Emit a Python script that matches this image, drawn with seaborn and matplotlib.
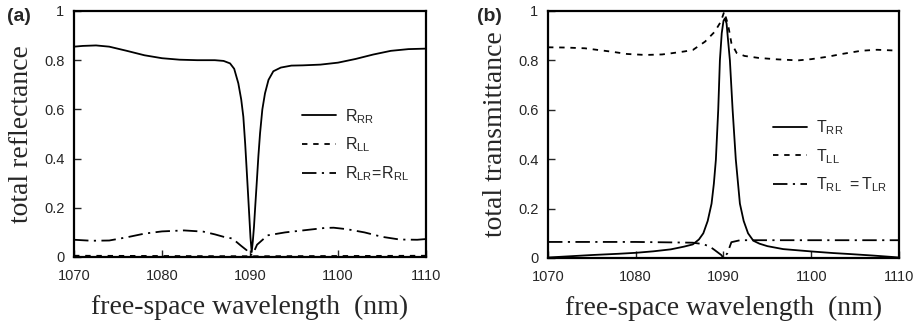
import matplotlib
matplotlib.use("Agg")
import matplotlib.pyplot as plt
import seaborn as sns

# ---- panel (a): reflectances ----
wl_rrr = [1070, 1071, 1072.5, 1074, 1076, 1078, 1080, 1082, 1084, 1086, 1087,
          1087.73, 1088.2, 1088.67, 1089.0, 1089.24, 1089.45, 1089.6, 1089.77,
          1089.92, 1090.05, 1090.19, 1090.32, 1090.45, 1090.6, 1090.76, 1090.95,
          1091.14, 1091.4, 1091.7, 1092.1, 1092.65, 1093.5, 1094.7, 1096, 1098,
          1100, 1102, 1104, 1106, 1108, 1110]
r_rr = [0.855, 0.858, 0.86, 0.855, 0.838, 0.82, 0.808, 0.802, 0.800, 0.800, 0.797,
        0.787, 0.765, 0.706, 0.64, 0.57, 0.46, 0.367, 0.26,
        0.164, 0.08, 0.02, 0.065, 0.123, 0.21, 0.30, 0.41,
        0.503, 0.60, 0.665, 0.72, 0.755, 0.77, 0.778, 0.779, 0.782,
        0.79, 0.805, 0.823, 0.838, 0.845, 0.847]

wl_rll = [1070, 1080, 1090, 1100, 1110]
r_ll = [0.005, 0.004, 0.003, 0.004, 0.005]

wl_rlr = [1070, 1072, 1074, 1076, 1078, 1080, 1082.5, 1084.7, 1086, 1087, 1088,
          1089, 1089.6, 1090.0, 1090.3, 1090.8, 1092, 1094, 1096, 1098.5, 1099.5,
          1101, 1103, 1105, 1107, 1109, 1110]
r_lr = [0.07, 0.066, 0.067, 0.08, 0.095, 0.104, 0.108, 0.103, 0.092, 0.082, 0.075,
        0.045, 0.028, 0.008, 0.01, 0.05, 0.088, 0.10, 0.108, 0.118, 0.119,
        0.113, 0.10, 0.082, 0.071, 0.07, 0.073]

# ---- panel (b): transmittances ----
wl_trr = [1070, 1072, 1075, 1078, 1080, 1082, 1084, 1085.5, 1086.5, 1087.2, 1087.7,
          1088.2, 1088.64, 1088.9, 1089.13, 1089.4, 1089.59, 1089.8, 1090.0, 1090.16,
          1090.35, 1090.55, 1090.73, 1091.04, 1091.4, 1091.87, 1092.3, 1092.8,
          1093.4, 1094.1, 1095, 1096.8, 1100.2, 1102.5, 1104.4, 1107, 1109.3, 1110]
t_rr = [0.002, 0.006, 0.012, 0.017, 0.021, 0.027, 0.035, 0.046, 0.055, 0.075, 0.10,
        0.15, 0.22, 0.30, 0.397, 0.60, 0.80, 0.91, 0.96, 0.97,
        0.95, 0.87, 0.80, 0.60, 0.40, 0.22, 0.15, 0.10,
        0.07, 0.058, 0.048, 0.036, 0.026, 0.02, 0.016, 0.01, 0.004, 0.002]

wl_tll = [1070, 1072, 1074.2, 1077.3, 1079, 1081.1, 1083, 1084.1, 1085.5, 1086.5,
          1087.9, 1089.0, 1089.7, 1090.08, 1090.53, 1090.9, 1091.5, 1092.4, 1094,
          1096.2, 1098.5, 1100, 1101.9, 1103.5, 1105.7, 1107.5, 1109.5, 1110]
t_ll = [0.853, 0.852, 0.849, 0.835, 0.826, 0.822, 0.824, 0.829, 0.836, 0.842,
        0.876, 0.916, 0.957, 0.997, 0.943, 0.87, 0.83, 0.818, 0.81,
        0.804, 0.80, 0.805, 0.815, 0.826, 0.839, 0.843, 0.84, 0.84]

wl_trl = [1070, 1080, 1086.5, 1087.7, 1088.45, 1089.0, 1089.75, 1090.0, 1090.44,
          1090.9, 1091.9, 1100, 1110]
t_rl = [0.065, 0.065, 0.062, 0.056, 0.046, 0.032, 0.012, 0.0, 0.019,
        0.064, 0.072, 0.072, 0.072]

x_ticks = [1070, 1080, 1090, 1100, 1110]
x_ticklabels = ["1070", "1080", "1090", "1100", "1110"]
y_ticks = [0, 0.2, 0.4, 0.6, 0.8, 1.0]
y_ticklabels = ["0", "0.2", "0.4", "0.6", "0.8", "1"]

sns.set_style("ticks")
plt.rcParams["font.family"] = ["Liberation Sans", "DejaVu Sans"]
plt.rcParams["mathtext.fontset"] = "custom"
plt.rcParams["mathtext.rm"] = "Liberation Sans"

fig = plt.figure(figsize=(9.15, 3.26), dpi=100)
ax_a = fig.add_axes([0.0809, 0.2117, 0.3847, 0.7546])
ax_b = fig.add_axes([0.5989, 0.2086, 0.3836, 0.7577])

solid = "-"
dotted = (0, (3.0, 3.2))
dashdot = (0, (8, 3, 1.2, 3))
lw = 1.3

sns.lineplot(x=wl_rrr, y=r_rr, ax=ax_a, color="black", lw=lw, linestyle=solid,
             label=r"$\mathregular{R_{RR}}$", sort=False)
sns.lineplot(x=wl_rll, y=r_ll, ax=ax_a, color="black", lw=lw, linestyle=dotted,
             label=r"$\mathregular{R_{LL}}$", sort=False)
sns.lineplot(x=wl_rlr, y=r_lr, ax=ax_a, color="black", lw=lw, linestyle=dashdot,
             label=r"$\mathregular{R_{LR}\!=\!R_{RL}}$", sort=False)

sns.lineplot(x=wl_trr, y=t_rr, ax=ax_b, color="black", lw=lw, linestyle=solid,
             label=r"$\mathregular{T_{RR}}$", sort=False)
sns.lineplot(x=wl_tll, y=t_ll, ax=ax_b, color="black", lw=lw, linestyle=dotted,
             label=r"$\mathregular{T_{LL}}$", sort=False)
sns.lineplot(x=wl_trl, y=t_rl, ax=ax_b, color="black", lw=lw, linestyle=dashdot,
             label=r"$\mathregular{T_{RL}\ =T_{LR}}$", sort=False)

for ax, ylab in ((ax_a, "total reflectance"), (ax_b, "total transmittance")):
    ax.set_xlim(1070, 1110)
    ax.set_ylim(0, 1)
    ax.set_xticks(x_ticks)
    ax.set_xticklabels(x_ticklabels)
    ax.set_yticks(y_ticks)
    ax.set_yticklabels(y_ticklabels)
    ax.tick_params(direction="in", length=5, width=1, labelsize=10.5,
                   top=False, right=False)
    ax.tick_params(axis="x", pad=9)
    ax.tick_params(axis="y", pad=7)
    for sp in ax.spines.values():
        sp.set_linewidth(1.6)
        sp.set_color("black")
    ax.set_xlabel("free-space wavelength  (nm)", family="Liberation Serif",
                  fontsize=20, labelpad=8)
    ax.set_ylabel(ylab, family="Liberation Serif", fontsize=20, labelpad=7)

ax_a.legend(loc="upper left", bbox_to_anchor=(0.648, 0.61), frameon=False,
            fontsize=11.5, handlelength=2.1, handletextpad=0.6, labelspacing=0.62,
            borderpad=0, borderaxespad=0)
ax_b.legend(loc="upper left", bbox_to_anchor=(0.641, 0.565), frameon=False,
            fontsize=11.5, handlelength=2.1, handletextpad=0.6, labelspacing=0.62,
            borderpad=0, borderaxespad=0)

fig.text(0.008, 0.948, "(a)", fontsize=14, fontweight="bold", ha="left", va="center")
fig.text(0.521, 0.948, "(b)", fontsize=14, fontweight="bold", ha="left", va="center")

fig.savefig("out.png", dpi=100)
